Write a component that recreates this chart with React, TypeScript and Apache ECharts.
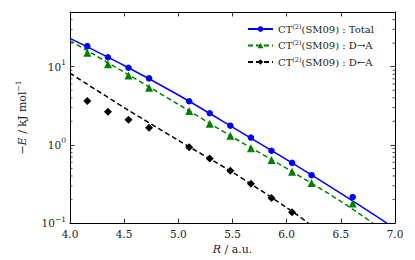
import React, { useEffect, useRef } from "react";
import * as echarts from "echarts";

// Measured points
const R = [4.16, 4.35, 4.54, 4.73, 5.1, 5.29, 5.48, 5.67, 5.86, 6.05, 6.23, 6.61];
const totalE = [18.3, 13.2, 9.7, 7.08, 3.61, 2.54, 1.76, 1.24, 0.84, 0.589, 0.41, 0.216];
const dToAE = [15.1, 10.7, 7.72, 5.36, 2.71, 1.86, 1.31, 0.907, 0.64, 0.454, 0.325, 0.178];
const R3 = [4.16, 4.35, 4.54, 4.73, 5.1, 5.29, 5.48, 5.67, 5.86, 6.05];
const dFromAE = [3.64, 2.66, 2.09, 1.66, 0.933, 0.668, 0.468, 0.319, 0.209, 0.138];

// Fitted curves
const fitTotalR = [4.0, 4.5, 5.0, 5.5, 6.0, 6.5, 6.925];
const fitTotalE = [23.0, 10.35, 4.34, 1.69, 0.646, 0.24, 0.1];
const fitDtoAR = [4.0, 4.5, 5.0, 5.5, 6.0, 6.5, 6.795];
const fitDtoAE = [21.5, 8.5, 3.3, 1.26, 0.5, 0.19, 0.1];
const fitDfromAR = [4.0, 4.5, 5.0, 5.5, 6.0, 6.2];
const fitDfromAE = [8.24, 3.0, 1.14, 0.447, 0.158, 0.1];

// Axis ticks
const xTicks = [4.0, 4.5, 5.0, 5.5, 6.0, 6.5, 7.0];
const yMajor = [0.1, 1, 10];
const yMinor = [0.2, 0.3, 0.4, 0.5, 0.6, 0.7, 0.8, 0.9, 2, 3, 4, 5, 6, 7, 8, 9, 20, 30, 40];

const legendNames = ["Total", "D→A", "D←A"];

const FONT = "DejaVu Serif";

const zip = (a: number[], b: number[]) => a.map((v, i) => [v, b[i]]);

export default function App() {
  const ref = useRef<HTMLDivElement>(null);
  useEffect(() => {
    if (!ref.current) return;
    const chart = echarts.init(ref.current, undefined, { renderer: "svg" });
    const supStyle = { fontSize: 7.5, fontFamily: FONT, color: "#222", verticalAlign: "top", lineHeight: 8 };
    const yLabelFmt = (v: number) => {
      const e = Math.round(Math.log10(v));
      if (Math.abs(Math.log10(v) - e) > 1e-6 || !yMajor.some((m) => Math.abs(m - v) < 1e-9)) return "";
      return "{b|10}{s|" + (e < 0 ? "−" + -e : String(e)) + "}";
    };
    const common = {
      min: 0.1,
      max: 50,
      type: "log" as const,
      logBase: 10,
      interval: 1,
      splitLine: { show: false },
      axisLine: { show: true, lineStyle: { color: "#000", width: 1 } },
      axisTick: { show: true, inside: true, length: 4.5, lineStyle: { color: "#000", width: 0.8 } },
    };
    const option: any = {
      animation: false,
      grid: { left: 70, right: 20, top: 12, bottom: 31, containLabel: false },
      legend: {
        data: legendNames,
        orient: "vertical",
        left: 247,
        top: 23,
        padding: 0,
        itemWidth: 25,
        itemHeight: 7,
        itemGap: 4.5,
        formatter: (n: string) => "{b|CT}{s|(2)}{b|(SM09) : " + n + "}",
        textStyle: {
          fontFamily: FONT,
          fontSize: 10,
          color: "#222",
          lineHeight: 12,
          rich: {
            b: { fontFamily: FONT, fontSize: 10, color: "#222", lineHeight: 12 },
            s: { fontFamily: FONT, fontSize: 6.5, color: "#222", verticalAlign: "top", lineHeight: 7 },
          },
        },
      },
      xAxis: [
        {
          type: "value",
          min: 4,
          max: 7,
          interval: 0.5,
          position: "bottom",
          splitLine: { show: false },
          axisLine: { show: true, lineStyle: { color: "#000", width: 1 } },
          axisTick: { show: true, inside: true, length: 4.5, lineStyle: { color: "#000", width: 0.8 } },
          axisLabel: {
            margin: 5,
            fontFamily: FONT,
            fontSize: 10.5,
            color: "#222",
            formatter: (v: number) => (xTicks.some((t) => Math.abs(t - v) < 1e-9) ? v.toFixed(1) : ""),
          },
          name: "{i|R} / a.u.",
          nameLocation: "middle",
          nameGap: 17,
          nameTextStyle: {
            fontFamily: FONT,
            fontSize: 11,
            color: "#222",
            rich: {
              i: { fontFamily: FONT, fontSize: 11, fontStyle: "italic", color: "#222" },
            },
          },
        },
        {
          type: "value",
          min: 4,
          max: 7,
          interval: 0.5,
          position: "top",
          splitLine: { show: false },
          axisLine: { show: true, lineStyle: { color: "#000", width: 1 } },
          axisTick: { show: true, inside: true, length: 4.5, lineStyle: { color: "#000", width: 0.8 } },
          axisLabel: { show: false },
        },
      ],
      yAxis: [
        {
          ...common,
          position: "left",
          axisLabel: {
            margin: 4,
            formatter: yLabelFmt,
            rich: {
              b: { fontFamily: FONT, fontSize: 10.5, color: "#222", lineHeight: 16 },
              s: supStyle,
            },
          },
          name: "−{i|E} / kJ mol{s|−1}",
          nameLocation: "middle",
          nameGap: 31,
          nameTextStyle: {
            fontFamily: FONT,
            fontSize: 11,
            color: "#222",
            lineHeight: 16,
            rich: {
              i: { fontFamily: FONT, fontSize: 11, fontStyle: "italic", color: "#222", lineHeight: 16 },
              s: { fontFamily: FONT, fontSize: 7.5, color: "#222", verticalAlign: "top", lineHeight: 8 },
            },
          },
        },
        {
          ...common,
          position: "right",
          axisLabel: { show: false },
        },
      ],
      series: [
        {
          name: "Total",
          type: "line",
          data: zip(fitTotalR, fitTotalE),
          symbol: "circle",
          showSymbol: false,
          smooth: 0.3,
          lineStyle: { color: "#0000ff", width: 1.5 },
          itemStyle: { color: "#0000ff" },
          z: 3,
        },
        {
          name: "D→A",
          type: "line",
          data: zip(fitDtoAR, fitDtoAE),
          symbol: "triangle",
          showSymbol: false,
          smooth: 0.3,
          lineStyle: { color: "#008000", width: 1.5, type: [5, 3] },
          itemStyle: { color: "#008000" },
          z: 3,
        },
        {
          name: "D←A",
          type: "line",
          data: zip(fitDfromAR, fitDfromAE),
          symbol: "diamond",
          showSymbol: false,
          smooth: 0.3,
          lineStyle: { color: "#000000", width: 1.5, type: [5, 3] },
          itemStyle: { color: "#000000" },
          z: 3,
        },
        {
          name: "pts-total",
          type: "scatter",
          data: zip(R, totalE),
          symbol: "circle",
          symbolSize: 6.5,
          itemStyle: { color: "#0000ff", opacity: 1 },
          z: 4,
        },
        {
          name: "pts-dtoa",
          type: "scatter",
          data: zip(R, dToAE),
          symbol: "triangle",
          symbolSize: 8,
          itemStyle: { color: "#008000", opacity: 1 },
          z: 4,
        },
        {
          name: "pts-dfroma",
          type: "scatter",
          data: zip(R3, dFromAE),
          symbol: "diamond",
          symbolSize: 8,
          itemStyle: { color: "#000000", opacity: 1 },
          z: 4,
        },
        {
          name: "minor-ticks",
          type: "custom",
          data: yMinor.map((v) => [4, v]),
          encode: { x: 0, y: 1 },
          silent: true,
          z: 5,
          renderItem: (params: any, api: any) => {
            const v = api.value(1);
            const pl = api.coord([4, v]);
            const pr = api.coord([7, v]);
            return {
              type: "group",
              children: [
                { type: "line", shape: { x1: pl[0], y1: pl[1], x2: pl[0] + 2.5, y2: pl[1] }, style: { stroke: "#000", lineWidth: 0.7 } },
                { type: "line", shape: { x1: pr[0] - 2.5, y1: pr[1], x2: pr[0], y2: pr[1] }, style: { stroke: "#000", lineWidth: 0.7 } },
              ],
            };
          },
        },
      ],
    };
    chart.setOption(option);
    return () => chart.dispose();
  }, []);
  return <div ref={ref} style={{ position: "fixed", left: 0, top: 0, width: 415, height: 260, background: "#fff" }} />;
}
